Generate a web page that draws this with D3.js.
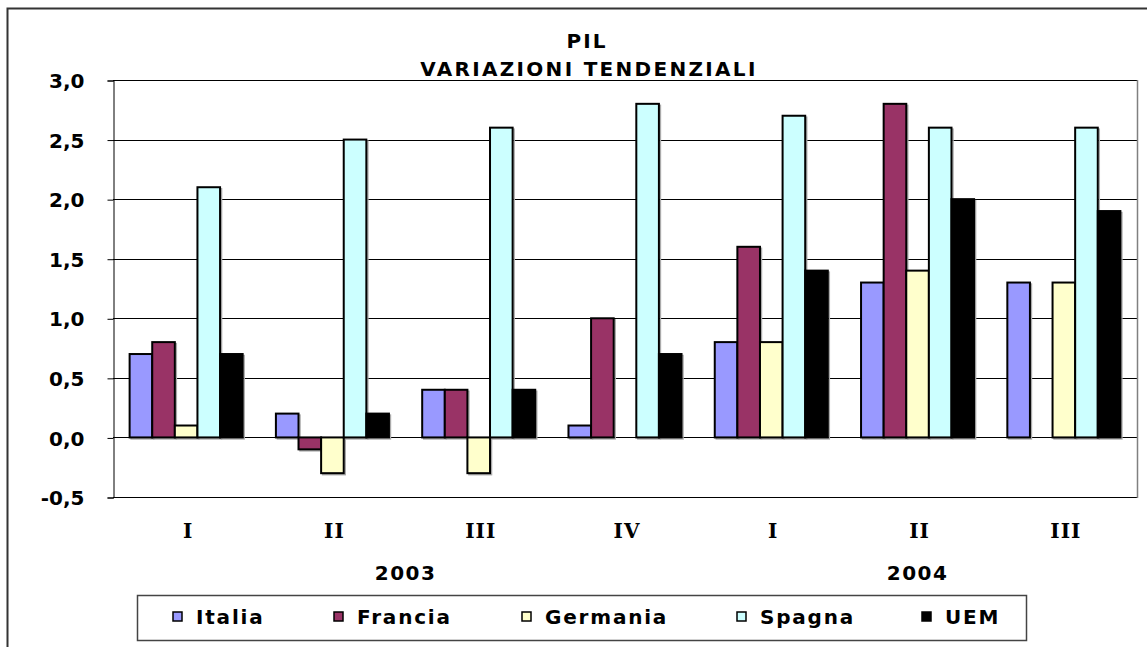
<!DOCTYPE html>
<html>
<head>
<meta charset="utf-8">
<script src="https://cdn.jsdelivr.net/npm/d3@7"></script>
<style>
  body { margin: 0; background: #fff; }
  svg { display: block; }
  text { font-family: "DejaVu Sans", Verdana, sans-serif; font-weight: bold; fill: #000; }
</style>
</head>
<body>
<div id="chart"></div>
<script>
// trimestri e anni
var quarters = ["I", "II", "III", "IV", "I", "II", "III"];
var years = [{ label: "2003", from: 0, to: 3 }, { label: "2004", from: 4, to: 6 }];
var series = ["Italia", "Francia", "Germania", "Spagna", "UEM"];
var colors = ["#9999ff", "#993366", "#ffffcc", "#ccffff", "#000000"];

var italia   = [0.7, 0.2, 0.4, 0.1, 0.8, 1.3, 1.3];
var francia  = [0.8, -0.1, 0.4, 1.0, 1.6, 2.8, null];
var germania = [0.1, -0.3, -0.3, null, 0.8, 1.4, 1.3];
var spagna   = [2.1, 2.5, 2.6, 2.8, 2.7, 2.6, 2.6];
var uem      = [0.7, 0.2, 0.4, 0.7, 1.4, 2.0, 1.9];
var values = [italia, francia, germania, spagna, uem];

var yTicks = [-0.5, 0, 0.5, 1, 1.5, 2, 2.5, 3];

var W = 1147, H = 647;
var plotL = 113, plotR = 1137, plotT = 80, plotB = 497;

var svg = d3.select("#chart").append("svg")
  .attr("width", W).attr("height", H);

// cornice esterna
svg.append("rect")
  .attr("x", 7.5).attr("y", 8.5)
  .attr("width", 1150).attr("height", 700)
  .attr("fill", "#fff").attr("stroke", "#333").attr("stroke-width", 2);

var x0 = d3.scaleBand().domain(d3.range(quarters.length)).range([plotL, plotR]);
var x1 = d3.scaleBand().domain(d3.range(series.length))
  .range([0, x0.bandwidth()]).paddingInner(0).paddingOuter(0.735);
var y = d3.scaleLinear().domain([-0.5, 3]).range([plotB, plotT]);

// griglia
svg.append("g").selectAll("line")
  .data(yTicks)
  .enter().append("line")
  .attr("x1", plotL).attr("x2", plotR)
  .attr("y1", function(d) { return Math.round(y(d)) + 0.5; })
  .attr("y2", function(d) { return Math.round(y(d)) + 0.5; })
  .attr("stroke", "#000").attr("stroke-width", 1);

// bordo destro del grafico
svg.append("line")
  .attr("x1", plotR + 0.5).attr("x2", plotR + 0.5)
  .attr("y1", plotT).attr("y2", plotB + 1)
  .attr("stroke", "#808080").attr("stroke-width", 1.5);

// asse y
var yAxis = d3.axisLeft(y).tickValues(yTicks).tickSize(6).tickPadding(23)
  .tickFormat(function(d) { return d3.format(".1f")(d).replace(".", ",").replace("\u2212", "-"); });
var gy = svg.append("g").attr("transform", "translate(" + (plotL + 0.5) + ",0.5)").call(yAxis);
gy.select(".domain").attr("stroke", "#000");
gy.selectAll(".tick line").attr("stroke", "#000");
gy.selectAll(".tick text")
  .style("font-size", "20px").style("font-family", "DejaVu Sans").style("font-weight", "bold")
  .attr("dy", "0.36em");

// barre
var groups = svg.append("g").selectAll("g")
  .data(quarters)
  .enter().append("g")
  .attr("transform", function(d, i) { return "translate(" + x0(i) + ",0)"; });

var barData = function(d, i) {
  return series.map(function(s, k) { return { k: k, v: values[k][i] }; })
    .filter(function(e) { return e.v !== null; });
};

// ombra leggera
groups.selectAll("rect.shadow")
  .data(barData)
  .enter().append("rect")
  .attr("class", "shadow")
  .attr("x", function(d) { return x1(d.k) + 1.5; })
  .attr("width", x1.bandwidth())
  .attr("y", function(d) { return y(Math.max(0, d.v)) + 1.5; })
  .attr("height", function(d) { return Math.abs(y(d.v) - y(0)); })
  .attr("fill", "none").attr("stroke", "#aaa").attr("stroke-width", 1.5);

groups.selectAll("rect.bar")
  .data(barData)
  .enter().append("rect")
  .attr("class", "bar")
  .attr("x", function(d) { return x1(d.k); })
  .attr("width", x1.bandwidth())
  .attr("y", function(d) { return y(Math.max(0, d.v)); })
  .attr("height", function(d) { return Math.abs(y(d.v) - y(0)); })
  .attr("fill", function(d) { return colors[d.k]; })
  .attr("stroke", "#000").attr("stroke-width", 2);

// etichette trimestri
svg.append("g").selectAll("text")
  .data(quarters)
  .enter().append("text")
  .attr("x", function(d, i) { return x0(i) + x0.bandwidth() / 2 + 2; })
  .attr("y", 538)
  .attr("text-anchor", "middle")
  .style("font-family", "'DejaVu Serif', serif")
  .style("font-size", "20px")
  .style("letter-spacing", "1px")
  .text(function(d) { return d; });

// anni
svg.append("g").selectAll("text")
  .data(years)
  .enter().append("text")
  .attr("x", function(d) { return (x0(d.from) + x0(d.to) + x0.bandwidth()) / 2; })
  .attr("y", 580)
  .attr("text-anchor", "middle")
  .style("font-size", "20px")
  .style("letter-spacing", "1.5px")
  .text(function(d) { return d.label; });

// titolo
svg.append("text").attr("x", 587).attr("y", 48).attr("text-anchor", "middle")
  .style("font-size", "20px").style("letter-spacing", "2px").text("PIL");
svg.append("text").attr("x", 589).attr("y", 76).attr("text-anchor", "middle")
  .style("font-size", "20px").style("letter-spacing", "2.3px").text("VARIAZIONI TENDENZIALI");

// legenda
svg.append("rect")
  .attr("x", 137.5).attr("y", 595.5).attr("width", 889).attr("height", 45)
  .attr("fill", "#fff").attr("stroke", "#444").attr("stroke-width", 1.5);

var legX = [173, 334, 522, 737, 922];
var leg = svg.append("g").selectAll("g")
  .data(series)
  .enter().append("g")
  .attr("transform", function(d, i) { return "translate(" + legX[i] + ",612)"; });
leg.append("rect")
  .attr("width", 9).attr("height", 9)
  .attr("fill", function(d, i) { return colors[i]; })
  .attr("stroke", "#000").attr("stroke-width", 1.5);
leg.append("text")
  .attr("x", 23).attr("y", 12)
  .style("font-size", "20px")
  .style("letter-spacing", "1.8px")
  .text(function(d) { return d; });
</script>
</body>
</html>
